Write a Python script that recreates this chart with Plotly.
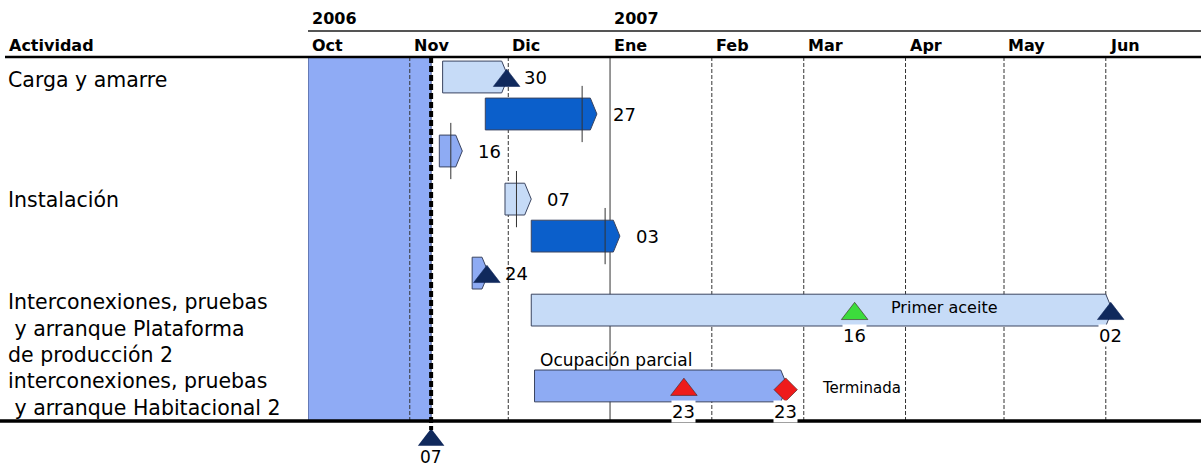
import pandas as pd
import plotly.graph_objects as go

# ---------------- data ----------------
month_starts = ["2006-10-01", "2006-11-01", "2006-12-01", "2007-01-01", "2007-02-01",
                "2007-03-01", "2007-04-01", "2007-05-01", "2007-06-01"]
month_labels = ["Oct", "Nov", "Dic", "Ene", "Feb", "Mar", "Apr", "May", "Jun"]
year_labels = ["2006", "2007"]
year_starts = ["2006-10-01", "2007-01-01"]
header_label = "Actividad"

activities = ["Carga y amarre",
              "Instalación",
              "Interconexiones, pruebas<br>\u00a0y arranque Plataforma<br>de producción 2",
              "interconexiones, pruebas<br>\u00a0y arranque Habitacional 2"]

# tasks (one bar each)
task_activity = [0, 0, 0, 1, 1, 1, 2, 3]
task_start = ["2006-11-11", "2006-11-24", "2006-11-10", "2006-11-30",
              "2006-12-08", "2006-11-20", "2006-12-08", "2006-12-09"]
task_end = ["2006-11-30", "2006-12-27", "2006-11-16", "2006-12-07",
            "2007-01-03", "2006-11-24", "2007-06-02", "2007-02-23"]
task_kind = ["claro", "oscuro", "medio", "claro", "oscuro", "medio", "claro", "medio"]
task_progress = [None, "2006-12-23", "2006-11-13", "2006-12-03", "2006-12-30", None, None, None]
task_end_label = [True, True, True, True, True, True, False, False]

# milestones
ms_task = [0, 5, 6, 6, 7, 7]
ms_date = ["2006-11-30", "2006-11-24", "2007-03-16", "2007-06-02", "2007-01-23", "2007-02-23"]
ms_kind = ["fin", "fin", "hito", "fin", "parcial", "terminada"]
ms_label_below = [False, False, True, True, True, True]

status_date = "2006-11-07"

notes = ["Primer aceite", "Ocupación parcial", "Terminada"]

# ---------------- layout / style ----------------
FONT = "DejaVu Sans"
PX0, PX_STEP = 77, 37          # pixel of lane 0 and pixels per lane
def lane_of(px):
    return (px - PX0) / PX_STEP

LANES = [0, 1, 2, 3.3, 4.3, 5.3, 6.3, 8.35]
ACT_Y = [lane_of(80), lane_of(200), lane_of(328), lane_of(394)]
HALF = 0.43
TIP = pd.Timedelta(days=2)
DAY = pd.Timedelta(days=1)
HALFDAY = pd.Timedelta(hours=12)

COLORS = {"claro": "#c6dbf7", "oscuro": "#0b5fcb", "medio": "#8eabf3"}
EDGE = "#3a4460"
SHADE = "#8fabf5"
MS_STYLE = {
    "fin": dict(symbol="triangle-up", color="#10295c", size=23),
    "hito": dict(symbol="triangle-up", color="#3cdc3c", size=23),
    "parcial": dict(symbol="triangle-up", color="#ee1b1b", size=23),
    "terminada": dict(symbol="diamond", color="#ee1b1b", size=18),
}
NOTE_POS = [("2007-04-13", lane_of(307), "center", 16),
            ("2006-12-10", lane_of(360), "left", 17),
            ("2007-03-06", lane_of(388), "left", 15)]

L_PX, W_PX = 308, 893
def paper_x(px):
    return (px - L_PX) / W_PX

fig = go.Figure()

# bars
for i in range(len(task_start)):
    s = pd.Timestamp(task_start[i])
    e = pd.Timestamp(task_end[i]) + DAY
    yc = LANES[i]
    xs = [s, e - TIP, e, e - TIP, s, s]
    ys = [yc - HALF, yc - HALF, yc, yc + HALF, yc + HALF, yc - HALF]
    fig.add_trace(go.Scatter(x=xs, y=ys, mode="lines", fill="toself",
                             fillcolor=COLORS[task_kind[i]],
                             line=dict(color=EDGE, width=1),
                             hoverinfo="skip", showlegend=False))

# progress lines
for i, p in enumerate(task_progress):
    if p is None:
        continue
    x = pd.Timestamp(p) + HALFDAY
    fig.add_trace(go.Scatter(x=[x, x], y=[LANES[i] - 0.76, LANES[i] + 0.76], mode="lines",
                             line=dict(color="#333333", width=1),
                             hoverinfo="skip", showlegend=False))

# milestones
for k in range(len(ms_date)):
    st = MS_STYLE[ms_kind[k]]
    x = pd.Timestamp(ms_date[k]) + HALFDAY
    y = LANES[ms_task[k]] + 0.1
    fig.add_trace(go.Scatter(x=[x], y=[y], mode="markers",
                             marker=dict(symbol=st["symbol"], color=st["color"], size=st["size"],
                                         line=dict(color="#3a2020" if ms_kind[k] != "fin" else st["color"], width=0.6)),
                             hoverinfo="skip", showlegend=False, cliponaxis=False))

# status milestone (bottom)
sx = pd.Timestamp(status_date) + HALFDAY
fig.add_trace(go.Scatter(x=[sx], y=[lane_of(440)], mode="markers",
                         marker=dict(symbol="triangle-up", color="#10295c", size=23),
                         hoverinfo="skip", showlegend=False, cliponaxis=False))

shapes = []
y_top, y_bot = lane_of(57), lane_of(421)
# shaded elapsed period
shapes.append(dict(type="rect", xref="x", yref="y", x0=month_starts[0], x1=sx,
                   y0=y_top, y1=y_bot, fillcolor=SHADE, line=dict(color="#3c4a78", width=1),
                   layer="below"))
# month grid lines
for m in month_starts[1:]:
    solid = m.endswith("01-01")
    shapes.append(dict(type="line", xref="x", yref="y", x0=m, x1=m, y0=y_top, y1=y_bot,
                       line=dict(color="#333333", width=1, dash="solid" if solid else "4px,2px"),
                       layer="below"))
# status line
shapes.append(dict(type="line", xref="x", yref="y", x0=sx, x1=sx, y0=y_top, y1=lane_of(430),
                   line=dict(color="black", width=4, dash="6px,3px")))
# header lines
shapes.append(dict(type="line", xref="paper", yref="y", x0=0, x1=1,
                   y0=lane_of(31), y1=lane_of(31), line=dict(color="#555555", width=2)))
shapes.append(dict(type="line", xref="paper", yref="y", x0=paper_x(5), x1=1,
                   y0=y_top, y1=y_top, line=dict(color="black", width=2.5)))
shapes.append(dict(type="line", xref="paper", yref="y", x0=paper_x(0), x1=1,
                   y0=y_bot, y1=y_bot, line=dict(color="black", width=3.5)))

ann = []
for lbl, m in zip(month_labels, month_starts):
    ann.append(dict(x=m, y=lane_of(45), xref="x", yref="y", text=lbl, showarrow=False,
                    xanchor="left", xshift=2, font=dict(family=FONT, size=16, color="black", weight=700)))
for lbl, m in zip(year_labels, year_starts):
    ann.append(dict(x=m, y=lane_of(18), xref="x", yref="y", text=lbl, showarrow=False,
                    xanchor="left", xshift=2, font=dict(family=FONT, size=16, color="black", weight=700)))
ann.append(dict(x=paper_x(7), y=lane_of(45), xref="paper", yref="y", text=header_label,
                showarrow=False, xanchor="left",
                font=dict(family=FONT, size=16, color="black", weight=700)))
for a, yv in zip(activities, ACT_Y):
    ann.append(dict(x=paper_x(6), y=yv, xref="paper", yref="y", text=a, showarrow=False,
                    xanchor="left", align="left", font=dict(family=FONT, size=20.5, color="black")))

# end labels
for i in range(len(task_end)):
    if not task_end_label[i]:
        continue
    e = pd.Timestamp(task_end[i]) + DAY
    ann.append(dict(x=e, y=LANES[i], xref="x", yref="y",
                    text=pd.Timestamp(task_end[i]).strftime("%d"),
                    showarrow=False, xanchor="left", xshift=14,
                    font=dict(family=FONT, size=18, color="black")))
# milestone labels below
for k in range(len(ms_date)):
    if not ms_label_below[k]:
        continue
    d = pd.Timestamp(ms_date[k])
    ann.append(dict(x=d + HALFDAY, y=LANES[ms_task[k]] + 0.68, xref="x", yref="y",
                    text=d.strftime("%d"), showarrow=False, bgcolor="white", borderpad=0,
                    font=dict(family=FONT, size=18, color="black")))
ann.append(dict(x=sx, y=lane_of(457), xref="x", yref="y", text=pd.Timestamp(status_date).strftime("%d"),
                showarrow=False, font=dict(family=FONT, size=17, color="black")))
# notes
for t, (xd, yv, anc, fs) in zip(notes, NOTE_POS):
    ann.append(dict(x=xd, y=yv, xref="x", yref="y", text=t, showarrow=False, xanchor=anc,
                    font=dict(family=FONT, size=fs, color="black")))

fig.update_layout(
    width=1201, height=469,
    margin=dict(l=L_PX, r=0, t=0, b=0),
    paper_bgcolor="white", plot_bgcolor="white",
    xaxis=dict(type="date", range=["2006-10-01", "2007-06-30"], visible=False, fixedrange=True),
    yaxis=dict(range=[lane_of(469), lane_of(0)], visible=False, fixedrange=True),
    shapes=shapes, annotations=ann, showlegend=False,
)

fig.write_html("out.html", config={"displayModeBar": False},
               post_script="document.body.style.margin='0px';document.body.style.overflow='hidden';")
